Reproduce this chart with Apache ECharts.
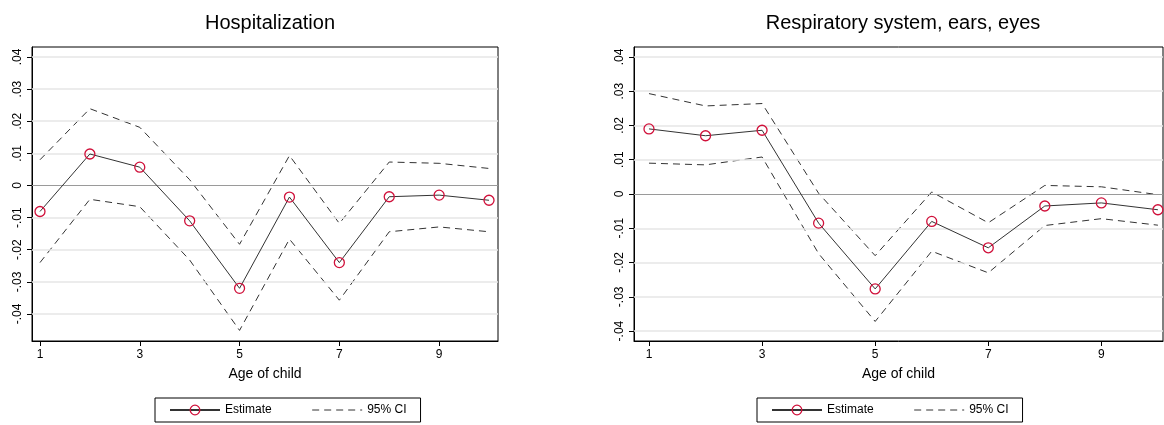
<!DOCTYPE html>
<html><head><meta charset="utf-8">
<script src="https://cdn.jsdelivr.net/npm/echarts@6/dist/echarts.min.js"></script>
<style>html,body{margin:0;background:#fff}#main{width:1164px;height:425px}</style>
</head><body><div id="main"></div>
<script>
var ages = [1, 2, 3, 4, 5, 6, 7, 8, 9, 10];
var xTicks = [1, 3, 5, 7, 9];
var yTicks = [-0.04, -0.03, -0.02, -0.01, 0, 0.01, 0.02, 0.03, 0.04];

var hospEst = [-0.0081, 0.0098, 0.0057, -0.011, -0.032, -0.0036, -0.024, -0.0035, -0.003, -0.0046];
var hospHi = [0.008, 0.0239, 0.0181, 0.0018, -0.0183, 0.0093, -0.0118, 0.0073, 0.0069, 0.0053];
var hospLo = [-0.024, -0.0043, -0.0066, -0.0232, -0.0451, -0.0167, -0.0357, -0.0144, -0.0129, -0.0144];

var respEst = [0.019, 0.017, 0.0186, -0.0085, -0.0277, -0.008, -0.0157, -0.0035, -0.0026, -0.0046];
var respHi = [0.0293, 0.0257, 0.0264, 0.0002, -0.018, 0.0006, -0.0084, 0.0025, 0.0021, -0.0002];
var respLo = [0.009, 0.0085, 0.0108, -0.0174, -0.0372, -0.0167, -0.023, -0.0092, -0.0072, -0.0091];

function pairs(v) {
	return ages.map(function(a, i) { return [a, v[i]]; });
}
function fmt(v) {
	if (Math.abs(v) < 1e-9) return '0';
	return v.toFixed(2).replace('0.', '.');
}

var myChart = echarts.init(document.getElementById('main'));
var panels = [
	{title: 'Hospitalization', est: hospEst, hi: hospHi, lo: hospLo,
	 grid: {left: 32, top: 47, width: 466, height: 294}, xmin: 0.84, xmax: 10.18, ymin: -0.0484, ymax: 0.0431, cx: 265, legLeft: 155},
	{title: 'Respiratory system, ears, eyes', est: respEst, hi: respHi, lo: respLo,
	 grid: {left: 634, top: 47, width: 529, height: 294}, xmin: 0.735, xmax: 10.09, ymin: -0.0429, ymax: 0.0429, cx: 898, legLeft: 757}
];

var grids = [], xAxes = [], yAxes = [], series = [], titles = [], legends = [];
panels.forEach(function(p, k) {
	grids.push(Object.assign({show: true, borderColor: '#000', borderWidth: 1}, p.grid));
	titles.push({text: p.title, left: p.cx, top: 8, textAlign: 'center',
		textStyle: {fontFamily: 'Liberation Sans', fontSize: 20, fontWeight: 'normal', color: '#000'}});
	xAxes.push({type: 'value', gridIndex: k, min: p.xmin, max: p.xmax,
		name: 'Age of child', nameLocation: 'middle', nameGap: 26,
		nameTextStyle: {fontFamily: 'Liberation Sans', fontSize: 14, color: '#000'},
		axisLine: {show: true, onZero: false, lineStyle: {color: '#000'}}, splitLine: {show: false},
		axisTick: {show: true, customValues: xTicks, length: 5, lineStyle: {color: '#000'}},
		axisLabel: {customValues: xTicks, fontFamily: 'Liberation Sans', fontSize: 12, color: '#000', margin: 8}});
	yAxes.push({type: 'value', gridIndex: k, min: p.ymin, max: p.ymax,
		axisLine: {show: true, onZero: false, lineStyle: {color: '#000'}}, splitLine: {show: false},
		axisTick: {show: true, customValues: yTicks, length: 5, lineStyle: {color: '#000'}},
		axisLabel: {customValues: yTicks, rotate: 90, fontFamily: 'Liberation Sans', fontSize: 12, color: '#000', margin: 8, formatter: fmt}});
	series.push({type: 'line', xAxisIndex: k, yAxisIndex: k, data: [], silent: true,
		markLine: {silent: true, symbol: 'none', label: {show: false}, animation: false,
			data: yTicks.map(function(t) {
				return {yAxis: t, lineStyle: {color: t === 0 ? '#9a9a9a' : '#e6e6e6', width: t === 0 ? 1.2 : 1.5, type: 'solid'}};
			})}});
	series.push({name: '95% CI', type: 'line', xAxisIndex: k, yAxisIndex: k, data: pairs(p.hi), symbol: 'none',
		lineStyle: {color: '#333', width: 1, type: [7, 5]}, itemStyle: {color: '#333'}, animation: false});
	series.push({name: '95% CI', type: 'line', xAxisIndex: k, yAxisIndex: k, data: pairs(p.lo), symbol: 'none',
		lineStyle: {color: '#333', width: 1, type: [7, 5]}, itemStyle: {color: '#333'}, animation: false});
	series.push({name: 'Estimate', type: 'line', xAxisIndex: k, yAxisIndex: k, data: pairs(p.est),
		symbol: 'circle', symbolSize: 10, showAllSymbol: true,
		lineStyle: {color: '#333', width: 1}, itemStyle: {color: 'rgba(0,0,0,0)', borderColor: '#d0103a', borderWidth: 1.3},
		animation: false, z: 5});
	legends.push({left: p.legLeft, top: 398, itemGap: 40, itemWidth: 50, itemHeight: 12,
		borderColor: '#000', borderWidth: 1, padding: [6, 14, 6, 14],
		data: [{name: 'Estimate', itemStyle: {color: 'rgba(0,0,0,0)', borderColor: '#d0103a', borderWidth: 1.3}},
			{name: '95% CI', itemStyle: {opacity: 0}, lineStyle: {color: '#333', width: 1, type: [7, 5]}}],
		textStyle: {fontFamily: 'Liberation Sans', fontSize: 12, color: '#000'}});
});

myChart.setOption({
	backgroundColor: '#fff',
	title: titles, grid: grids, xAxis: xAxes, yAxis: yAxes, legend: legends, series: series
});
</script></body></html>
